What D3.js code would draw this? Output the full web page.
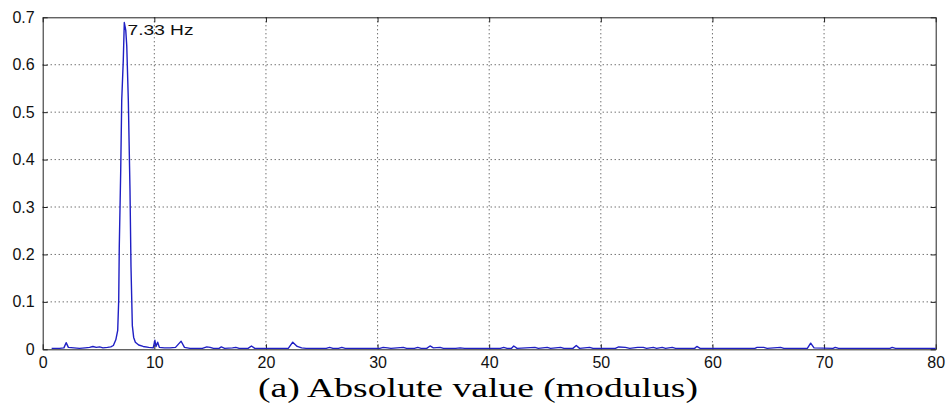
<!DOCTYPE html>
<html>
<head>
<meta charset="utf-8">
<script src="https://cdn.jsdelivr.net/npm/d3@7"></script>
<style>
  body { margin: 0; background: #fff; }
  .tick text { font-family: Arial, "Liberation Sans", sans-serif; font-size: 16px; fill: #111; }
  .axis path, .axis line { stroke: #222; }
  .grid line { stroke: #333; stroke-dasharray: 1,3; }
</style>
</head>
<body>
<div id="chart"></div>
<script>
// Spectrum data (frequency in Hz, amplitude)
const freqs = [0.8, 1.5, 1.9, 2.1, 2.3, 2.8, 3.3, 3.8, 4.2, 4.5, 4.8, 5.1, 5.4, 5.8, 6.1,
  6.33, 6.55, 6.72, 6.81, 6.86, 6.99, 7.08, 7.22, 7.31, 7.44, 7.53, 7.67, 7.82, 7.91, 8.03,
  8.15, 8.3, 8.6, 9.0, 9.5, 9.9, 10.05, 10.15, 10.3, 10.45, 10.9, 11.4, 11.9, 12.2, 12.4,
  12.7, 13.2, 14.3, 14.7, 15.0, 15.3, 15.8, 16.0, 16.3, 17.0, 17.3, 17.6, 18.4, 18.7, 19.0,
  20.0, 22.0, 22.4, 22.8, 23.2, 23.6, 25.4, 25.7, 26.0, 26.5, 26.8, 27.1, 30.2, 30.5, 30.9,
  31.2, 32.3, 32.6, 33.3, 33.6, 33.9, 34.4, 34.7, 35.0, 35.6, 35.9, 37.0, 37.4, 37.8, 39.9,
  41.0, 41.3, 41.6, 42.0, 42.2, 42.5, 44.1, 44.4, 45.2, 45.5, 46.4, 46.7, 47.5, 47.8, 48.1,
  49.0, 49.3, 51.3, 51.6, 52.2, 52.6, 53.3, 53.8, 54.1, 54.7, 55.0, 55.5, 55.8, 56.4, 56.7,
  58.4, 58.6, 58.9, 63.8, 64.0, 64.6, 64.9, 66.1, 66.4, 68.5, 68.8, 69.1, 70.8, 71.0, 71.3,
  75.9, 76.1, 76.4, 80.0];
const amps = [0.002, 0.002, 0.003, 0.014, 0.004, 0.003, 0.002, 0.003, 0.004, 0.006, 0.004, 0.005, 0.003, 0.004, 0.005,
  0.008, 0.02, 0.04, 0.104, 0.216, 0.378, 0.525, 0.61, 0.689, 0.673, 0.64, 0.525, 0.336, 0.174, 0.05,
  0.025, 0.015, 0.009, 0.006, 0.004, 0.003, 0.019, 0.006, 0.015, 0.004, 0.003, 0.003, 0.004, 0.012, 0.017,
  0.004, 0.002, 0.002, 0.005, 0.004, 0.002, 0.002, 0.005, 0.002, 0.003, 0.004, 0.002, 0.002, 0.007, 0.002,
  0.002, 0.002, 0.015, 0.006, 0.003, 0.002, 0.002, 0.004, 0.002, 0.002, 0.004, 0.002, 0.002, 0.004, 0.003,
  0.002, 0.004, 0.002, 0.002, 0.004, 0.002, 0.002, 0.007, 0.003, 0.004, 0.002, 0.002, 0.003, 0.002, 0.002,
  0.002, 0.004, 0.002, 0.002, 0.007, 0.002, 0.004, 0.002, 0.004, 0.002, 0.004, 0.002, 0.002, 0.008, 0.002,
  0.004, 0.002, 0.002, 0.005, 0.004, 0.002, 0.004, 0.004, 0.002, 0.004, 0.002, 0.004, 0.002, 0.004, 0.002,
  0.002, 0.006, 0.002, 0.002, 0.004, 0.004, 0.002, 0.004, 0.002, 0.002, 0.013, 0.003, 0.002, 0.004, 0.002,
  0.002, 0.004, 0.002, 0.002];

const xTicks = [0, 10, 20, 30, 40, 50, 60, 70, 80];
const yTicks = [0, 0.1, 0.2, 0.3, 0.4, 0.5, 0.6, 0.7];
const peakLabel = '7.33 Hz';
const peakFreq = 7.33, peakAmp = 0.69;
const caption = '(a) Absolute value (modulus)';

const config = {
  containerWidth: 946,
  containerHeight: 411,
  margin: { top: 17.3, right: 10.3, bottom: 61.7, left: 42.7 }
};

const width = config.containerWidth - config.margin.left - config.margin.right;
const height = config.containerHeight - config.margin.top - config.margin.bottom;

const svg = d3.select('#chart').append('svg')
    .attr('width', config.containerWidth)
    .attr('height', config.containerHeight);

const chart = svg.append('g')
    .attr('transform', `translate(${config.margin.left}, ${config.margin.top})`);

// Scales
const xScale = d3.scaleLinear().domain([0, 80]).range([0, width]);
const yScale = d3.scaleLinear().domain([0, 0.7]).range([height, 0]);

// Dotted grid (interior ticks only)
chart.append('g').attr('class', 'grid')
  .selectAll('line.gx')
  .data(xTicks.slice(1, -1))
  .join('line')
    .attr('x1', d => xScale(d)).attr('x2', d => xScale(d))
    .attr('y1', 0).attr('y2', height);

chart.append('g').attr('class', 'grid')
  .selectAll('line.gy')
  .data(yTicks.slice(1, -1))
  .join('line')
    .attr('y1', d => yScale(d)).attr('y2', d => yScale(d))
    .attr('x1', 0).attr('x2', width);

// Axes, MATLAB style: ticks pointing inward on all four sides
const xAxis = d3.axisBottom(xScale).tickValues(xTicks).tickSizeInner(-5).tickSizeOuter(0).tickPadding(7).tickFormat(d3.format('d'));
const yAxis = d3.axisLeft(yScale).tickValues(yTicks).tickSizeInner(-5).tickSizeOuter(0).tickPadding(8).tickFormat(d => d === 0 ? '0' : d3.format('.1f')(d));

chart.append('g').attr('class', 'axis')
    .attr('transform', `translate(0, ${height})`)
    .call(xAxis);
chart.append('g').attr('class', 'axis')
    .call(yAxis);
chart.append('g').attr('class', 'axis')
    .call(d3.axisTop(xScale).tickValues(xTicks).tickSizeInner(-5).tickSizeOuter(0).tickFormat(''));
chart.append('g').attr('class', 'axis')
    .attr('transform', `translate(${width}, 0)`)
    .call(d3.axisRight(yScale).tickValues(yTicks).tickSizeInner(-5).tickSizeOuter(0).tickFormat(''));

// Spectrum line
const line = d3.line()
    .x((d, i) => xScale(freqs[i]))
    .y(d => yScale(d));

chart.append('path')
    .datum(amps)
    .attr('fill', 'none')
    .attr('stroke', '#1f1fc4')
    .attr('stroke-width', 1.4)
    .attr('stroke-linejoin', 'round')
    .attr('d', line);

// Peak annotation
chart.append('text')
    .attr('x', xScale(peakFreq) + 3)
    .attr('y', yScale(peakAmp) + 13)
    .attr('textLength', 66)
    .attr('lengthAdjust', 'spacingAndGlyphs')
    .style('font-family', 'Arial, "Liberation Sans", sans-serif')
    .style('font-size', '15px')
    .attr('fill', '#111')
    .text(peakLabel);

// Caption
svg.append('text')
    .attr('x', 258)
    .attr('y', 397)
    .attr('textLength', 440)
    .attr('lengthAdjust', 'spacingAndGlyphs')
    .style('font-family', '"Times New Roman", "Liberation Serif", serif')
    .style('font-size', '27px')
    .attr('fill', '#000')
    .text(caption);
</script>
</body>
</html>
